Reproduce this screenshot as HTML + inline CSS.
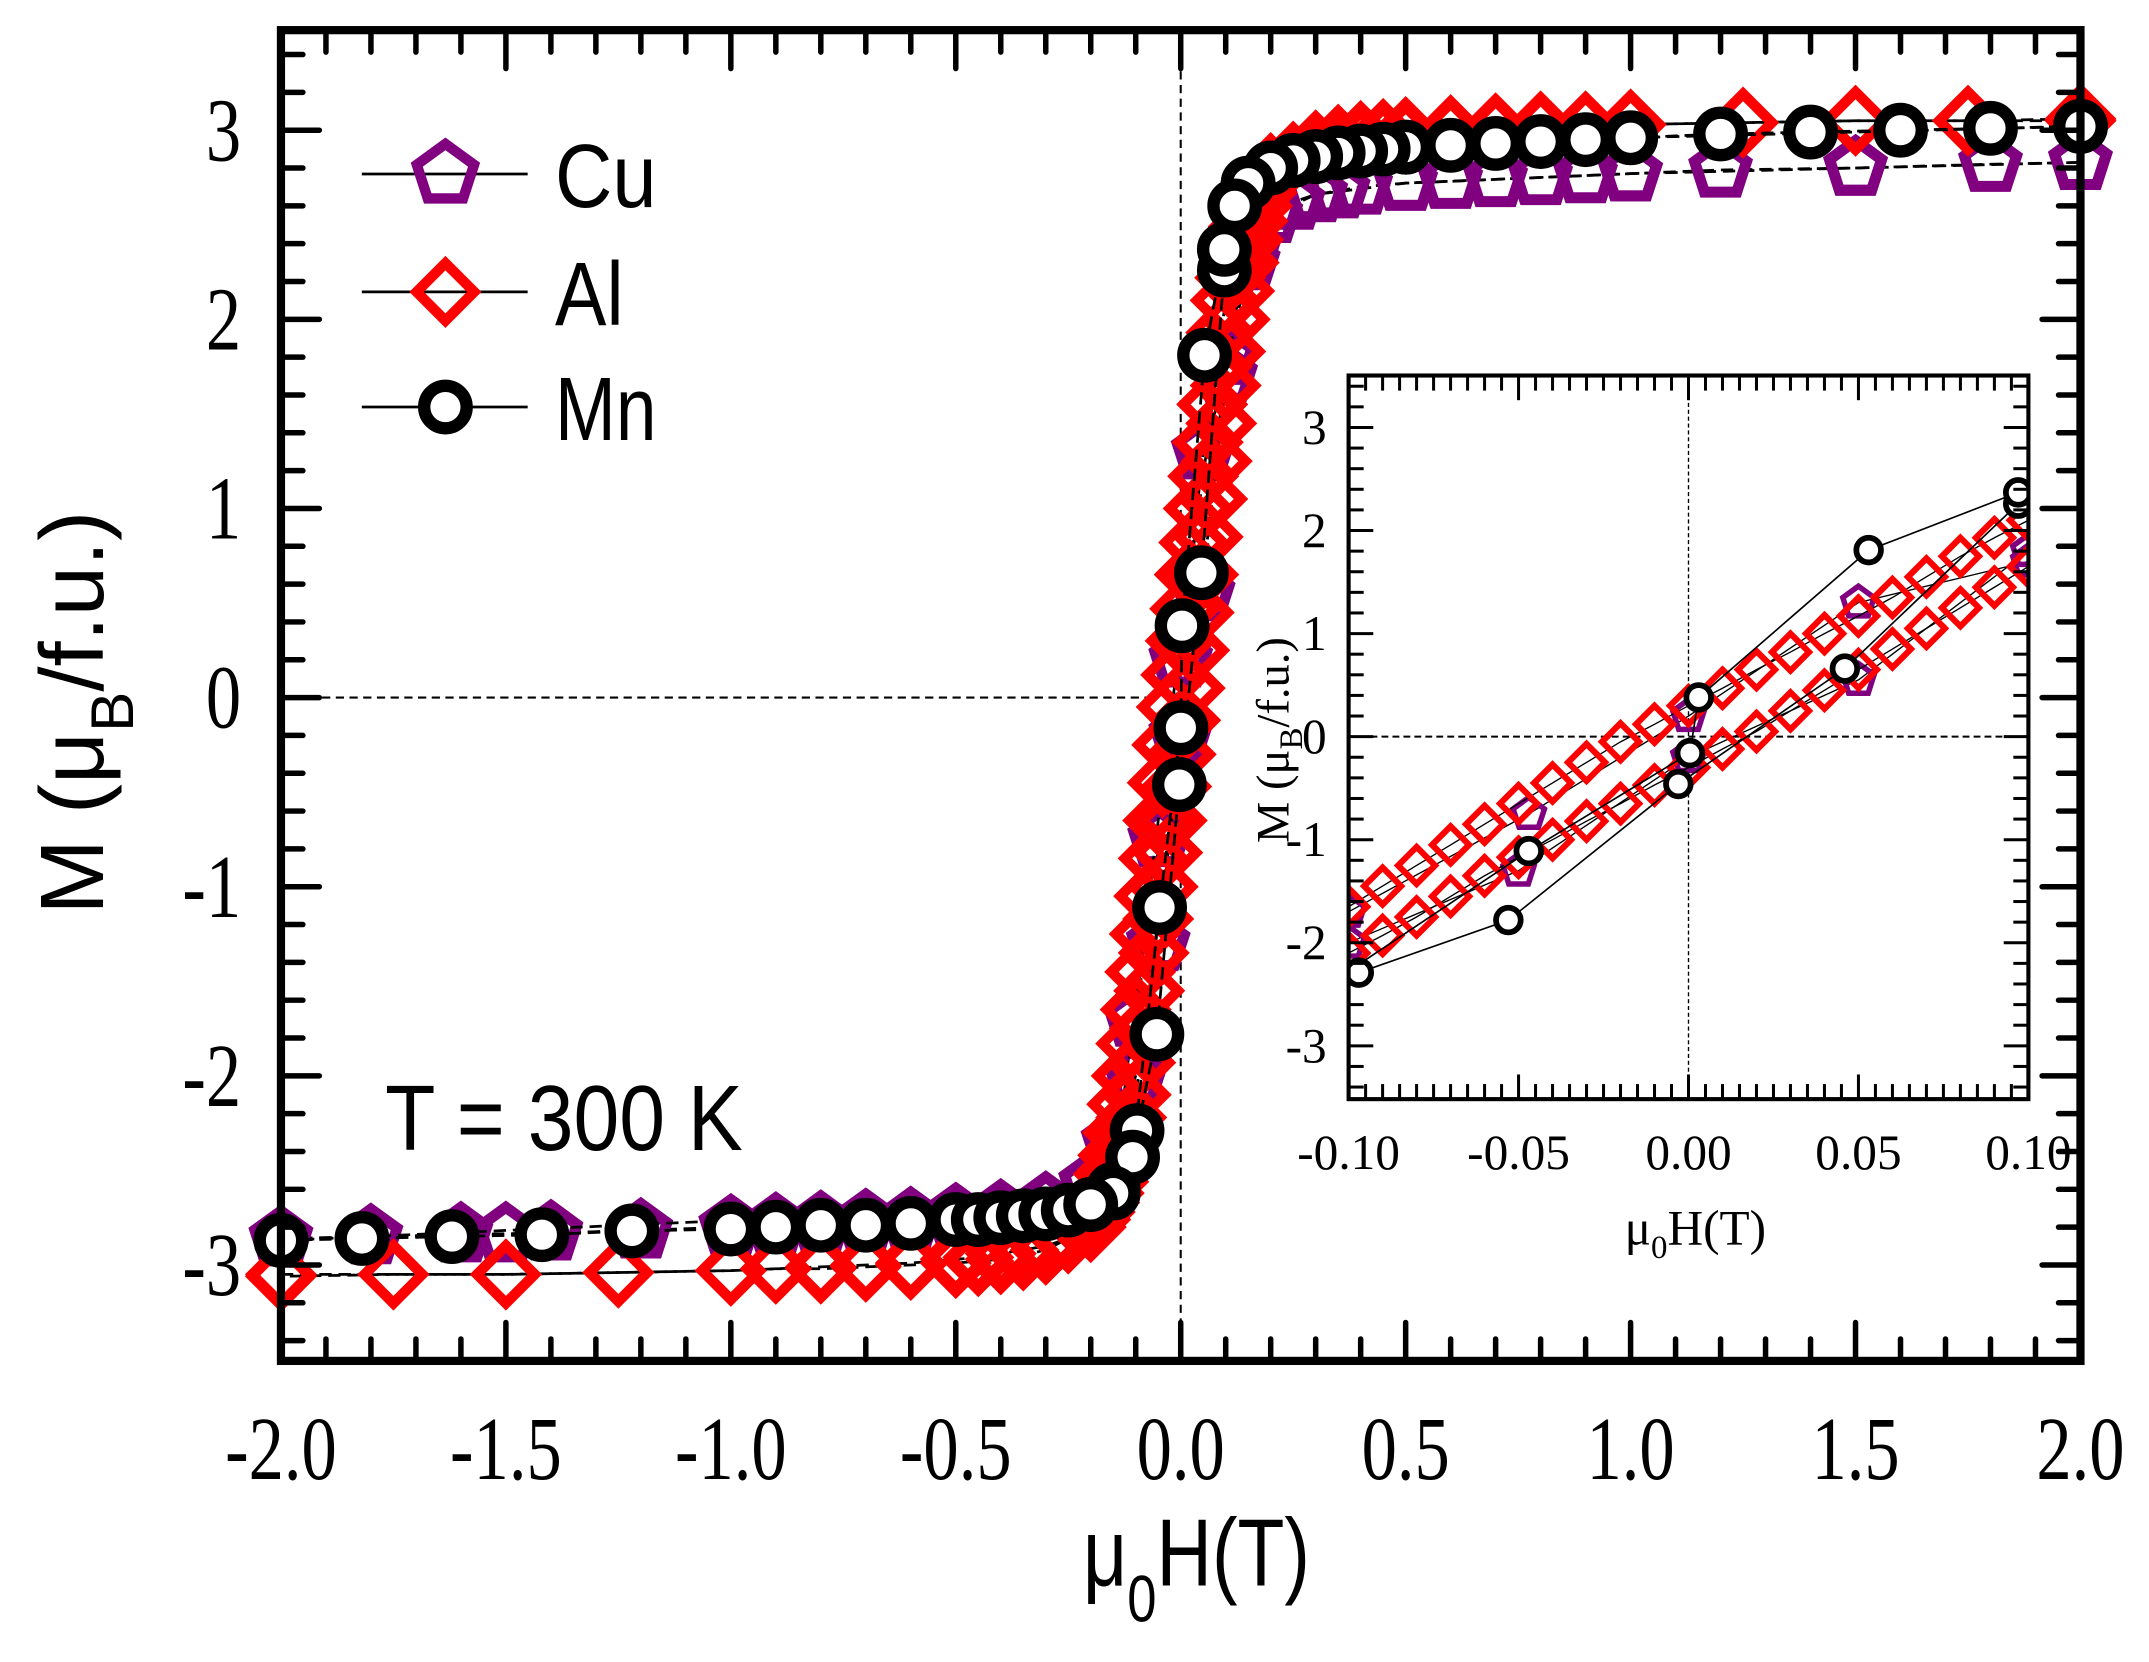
<!DOCTYPE html>
<html><head><meta charset="utf-8"><style>
html,body{margin:0;padding:0;background:#fff;}
svg{display:block;}
</style></head><body>
<svg id="chart" width="2149" height="1662" viewBox="0 0 1568 1212.7" preserveAspectRatio="none" xmlns="http://www.w3.org/2000/svg">
<defs>
<clipPath id="insetClip"><rect x="984" y="274" width="496" height="528"/></clipPath>
</defs>
<g id="main"></g>
<g id="inset"></g>
</svg>
<script>
// ---- data ----
const mnUpH = [-2,-1.82,-1.62,-1.42,-1.22,-1.0,-0.9,-0.8,-0.7,-0.6,-0.5,-0.45,-0.4,-0.35,-0.3,-0.25,-0.2,-0.15,-0.097,-0.053,-0.003,0.046,0.097,0.15,0.2,0.3,0.5,1.0,2.0];
const mnUpM = [-2.87,-2.86,-2.85,-2.84,-2.82,-2.81,-2.8,-2.79,-2.79,-2.78,-2.76,-2.76,-2.75,-2.74,-2.73,-2.71,-2.68,-2.6,-2.29,-1.78,-0.46,0.66,2.26,2.72,2.8,2.86,2.91,2.96,3.02];
const mnDownH = [2.0,1.8,1.6,1.4,1.2,1.0,0.9,0.8,0.7,0.6,0.5,0.45,0.4,0.35,0.3,0.25,0.2,0.15,0.12,0.097,0.053,0.003,0.0004,-0.047,-0.107,-0.15,-0.2,-2.0];
const mnDownM = [3.02,3.01,3.0,2.99,2.98,2.96,2.95,2.94,2.93,2.92,2.91,2.9,2.89,2.88,2.86,2.84,2.8,2.72,2.6,2.37,1.81,0.38,-0.16,-1.11,-2.43,-2.62,-2.68,-2.87];
const cuUpH = [-2,-1.8,-1.6,-1.4,-1.2,-1.0,-0.9,-0.8,-0.7,-0.6,-0.5,-0.4,-0.3,-0.2,-0.15,-0.1,-0.05,0,0.05,0.1,0.15,0.2,0.25,0.3,0.35,0.4,0.5,0.6,0.7,0.8,0.9,1.0,1.2,1.5,1.8,2.0];
const cuUpM = [-2.86,-2.85,-2.84,-2.83,-2.82,-2.8,-2.79,-2.78,-2.77,-2.76,-2.74,-2.72,-2.68,-2.57,-2.35,-2.0,-1.3,-0.2,0.55,1.8,2.35,2.55,2.62,2.66,2.68,2.7,2.72,2.73,2.74,2.75,2.76,2.77,2.79,2.8,2.82,2.83];
const cuDownH = [2.0,1.5,1.0,0.5,0.3,0.2,0.15,0.1,0.05,0,-0.047,-0.1,-0.15,-0.2,-0.3,-0.5,-1.0,-1.5,-2.0];
const cuDownM = [2.83,2.8,2.77,2.72,2.66,2.55,2.3,1.7,1.3,0.2,-0.75,-1.7,-2.35,-2.57,-2.68,-2.74,-2.8,-2.84,-2.86];
const alUpH = [-2,-1.75,-1.5,-1.25,-1.0,-0.9,-0.8,-0.7,-0.6,-0.5,-0.45,-0.4,-0.35,-0.3,-0.25,-0.2,-0.19,-0.18,-0.17,-0.16,-0.15,-0.14,-0.13,-0.12,-0.11,-0.1,-0.09,-0.08,-0.07,-0.06,-0.05,-0.04,-0.03,-0.02,-0.01,0,0.01,0.02,0.03,0.04,0.05,0.06,0.07,0.08,0.09,0.1,0.11,0.12,0.13,0.14,0.15,0.16,0.17,0.18,0.19,0.2,0.25,0.3,0.35,0.4,0.45,0.5,0.6,0.7,0.8,0.9,1.0,1.25,1.5,1.75,2.0];
const alUpM = [-3.05,-3.05,-3.05,-3.04,-3.03,-3.02,-3.01,-3.0,-2.99,-2.97,-2.96,-2.94,-2.92,-2.9,-2.86,-2.8,-2.76,-2.72,-2.67,-2.62,-2.56,-2.49,-2.41,-2.32,-2.22,-2.1,-1.93,-1.75,-1.55,-1.35,-1.17,-1.0,-0.82,-0.65,-0.47,-0.3,-0.12,0.05,0.25,0.45,0.65,0.85,1.05,1.25,1.45,1.65,1.83,2.0,2.15,2.3,2.42,2.52,2.6,2.67,2.72,2.76,2.86,2.92,2.95,2.97,2.98,2.99,3.0,3.01,3.02,3.02,3.03,3.04,3.05,3.05,3.06];
const alDownH = [2,1.75,1.5,1.25,1.0,0.9,0.8,0.7,0.6,0.5,0.45,0.4,0.35,0.3,0.25,0.2,0.19,0.18,0.17,0.16,0.15,0.14,0.13,0.12,0.11,0.1,0.09,0.08,0.07,0.06,0.05,0.04,0.03,0.02,0.01,0,-0.01,-0.02,-0.03,-0.04,-0.05,-0.06,-0.07,-0.08,-0.09,-0.1,-0.11,-0.12,-0.13,-0.14,-0.15,-0.16,-0.17,-0.18,-0.19,-0.2,-0.25,-0.3,-0.35,-0.4,-0.45,-0.5,-0.6,-0.7,-0.8,-0.9,-1.0,-1.25,-1.5,-1.75,-2.0];
const alDownM = [3.05,3.05,3.05,3.04,3.03,3.02,3.01,3.0,2.99,2.97,2.96,2.94,2.92,2.9,2.86,2.8,2.76,2.72,2.67,2.62,2.56,2.49,2.41,2.32,2.22,2.1,1.93,1.75,1.55,1.35,1.17,1.0,0.82,0.65,0.47,0.3,0.12,-0.05,-0.25,-0.45,-0.65,-0.85,-1.05,-1.25,-1.45,-1.65,-1.83,-2.0,-2.15,-2.3,-2.42,-2.52,-2.6,-2.67,-2.72,-2.76,-2.86,-2.92,-2.95,-2.97,-2.98,-2.99,-3.0,-3.01,-3.02,-3.02,-3.03,-3.04,-3.05,-3.05,-3.06];
const mainXTicks = ["-2.0","-1.5","-1.0","-0.5","0.0","0.5","1.0","1.5","2.0"];
const mainYTicks = ["-3","-2","-1","0","1","2","3"];
const insetXTicks = ["-0.10","-0.05","0.00","0.05","0.10"];
const insetYTicks = ["-3","-2","-1","0","1","2","3"];
const legendNames = ["Cu","Al","Mn"];

const NS = "http://www.w3.org/2000/svg";
function mk(parent, tag, attrs, text){
  const e = document.createElementNS(NS, tag);
  for (const k in attrs) e.setAttribute(k, attrs[k]);
  if (text !== undefined) e.textContent = text;
  parent.appendChild(e);
  return e;
}
const main = document.getElementById('main');
const inset = document.getElementById('inset');

const MX0=205, MX1=1518, MY3=95, MY0=509;
const mx = h => MX0 + (h + 2) / 4 * (MX1 - MX0);
const my = m => MY0 - m * (MY0 - MY3) / 3;
const MYT = 22, MYB = 993;
const IX0=984, IX1=1480, IY0=537.5, IYU=75.2, IYT=274, IYB=802;
const ix = h => IX0 + (h + 0.1) / 0.2 * (IX1 - IX0);
const iy = m => IY0 - m * IYU;

function marker(g, kind, x, y, s, sw){
  let e;
  if (kind === 'circle') {
    e = mk(g,'circle',{cx:x,cy:y,r:s,fill:'#fff',stroke:'#000','stroke-width':sw});
  } else if (kind === 'diamond') {
    e = mk(g,'polygon',{points:`${x},${y-s} ${x+s},${y} ${x},${y+s} ${x-s},${y}`,fill:'none',stroke:'#ff0000','stroke-width':sw,'stroke-linejoin':'miter'});
  } else {
    let p=[];
    for(let i=0;i<5;i++){const a=-Math.PI/2+i*2*Math.PI/5;p.push((x+s*Math.cos(a)).toFixed(1)+','+(y+s*Math.sin(a)).toFixed(1));}
    e = mk(g,'polygon',{points:p.join(' '),fill:'none',stroke:'#800080','stroke-width':sw});
  }
  return e;
}

function drawSeries(g, name, kind, branches, fx, fy, s, sw, dash, lw){
  const sg = mk(g,'g',{});
  
  
  branches.forEach(([H,M]) => {
    const pts = H.map((h,i)=>fx(h).toFixed(1)+','+fy(M[i]).toFixed(1)).join(' ');
    const ln = mk(sg,'polyline',{points:pts,fill:'none',stroke:'#000','stroke-width':lw,'stroke-dasharray':dash});
    
    
  });
  branches.forEach(([H,M]) => {
    H.forEach((h,i)=>{
      const e = marker(sg, kind, fx(h), fy(M[i]), s, sw);
      
      
    });
  });
}

// ---------- MAIN ----------
let zl = mk(main,'line',{x1:MX0,y1:my(0),x2:mx(-0.05),y2:my(0),stroke:'#000','stroke-width':1.5,'stroke-dasharray':'6,4'});
 
let zv = mk(main,'line',{x1:mx(0),y1:MYT,x2:mx(0),y2:MYB,stroke:'#000','stroke-width':1.5,'stroke-dasharray':'6,4'});
 

drawSeries(main,'cu','pentagon',[[cuUpH,cuUpM],[cuDownH,cuDownM]],mx,my,20,8,'9,5',2);
drawSeries(main,'al','diamond',[[alUpH,alUpM],[alDownH,alDownM]],mx,my,21,7.5,'9,5',2);
drawSeries(main,'mn','circle',[[mnUpH,mnUpM],[mnDownH,mnDownM]],mx,my,15.5,9,'9,5',2);

const tg = mk(main,'g',{stroke:'#000','stroke-width':4,'stroke-linecap':'round'});
 
for(let k=0;k<=40;k++){
  const h=-2+k*0.1, x=mx(h), L=(k%5===0)?28:16;
  mk(tg,'line',{x1:x,y1:MYT,x2:x,y2:MYT+L});
  mk(tg,'line',{x1:x,y1:MYB,x2:x,y2:MYB-L});
}
for(let k=-17;k<=17;k++){
  const m=k*0.2, y=my(m); if(y<MYT+3||y>MYB-3) continue;
  const L=(k%5===0)?28:16;
  mk(tg,'line',{x1:MX0,y1:y,x2:MX0+L,y2:y});
  mk(tg,'line',{x1:MX1,y1:y,x2:MX1-L,y2:y});
}
let fr = mk(main,'rect',{x:MX0,y:MYT,width:MX1-MX0,height:MYB-MYT,fill:'none',stroke:'#000','stroke-width':6});
 

const serif = '"Liberation Serif", serif', sans = '"Liberation Sans", sans-serif';
mainXTicks.forEach(t=>{
  const x=mx(parseFloat(t));
  const e=mk(main,'text',{x:0,y:0,transform:`translate(${x},1079) scale(0.78,1)`,'text-anchor':'middle','font-family':serif,'font-size':66},t);
   
});
mainYTicks.forEach(t=>{
  const y=my(parseFloat(t));
  const e=mk(main,'text',{x:0,y:0,transform:`translate(176,${y+22}) scale(0.78,1)`,'text-anchor':'end','font-family':serif,'font-size':66},t);
   
});
let xt = mk(main,'text',{x:0,y:0,transform:'translate(873,1157) scale(0.8,1)','text-anchor':'middle','font-family':sans,'font-size':70});
 
mk(xt,'tspan',{},'μ'); mk(xt,'tspan',{dy:26,'font-size':48},'0'); mk(xt,'tspan',{dy:-26},'H(T)');
let yt = mk(main,'text',{x:0,y:0,transform:'translate(75,520) rotate(-90)','text-anchor':'middle','font-family':sans,'font-size':66});
 
mk(yt,'tspan',{},'M (μ'); mk(yt,'tspan',{dy:22,'font-size':44},'B'); mk(yt,'tspan',{dy:-22},'/f.u.)');

const lg = mk(main,'g',{});
 
const legKinds=['pentagon','diamond','circle'], legY=[127,213,297];
legendNames.forEach((n,i)=>{
  const g=mk(lg,'g',{});
  
  
  mk(g,'line',{x1:264,y1:legY[i],x2:385,y2:legY[i],stroke:'#000','stroke-width':2});
  marker(g,legKinds[i],325,legY[i],legKinds[i]==='circle'?15.5:(legKinds[i]==='diamond'?21:22),legKinds[i]==='circle'?9:7.5);
  mk(g,'text',{x:405,y:legY[i]+24,'font-family':sans,'font-size':66,textLength:n==='Mn'?74:(n==='Cu'?74:50),lengthAdjust:'spacingAndGlyphs'},n);
});
let tt = mk(main,'text',{x:281,y:839,'font-family':sans,'font-size':68,textLength:261,lengthAdjust:'spacingAndGlyphs'},'T = 300 K');
 

// ---------- INSET ----------
let ibg = mk(inset,'rect',{x:IX0,y:IYT,width:IX1-IX0,height:IYB-IYT,fill:'#fff'});
 
const ic = mk(inset,'g',{'clip-path':'url(#insetClip)'});
 
mk(ic,'line',{x1:IX0,y1:iy(0),x2:IX1,y2:iy(0),stroke:'#000','stroke-width':1.5,'stroke-dasharray':'5,3'});
mk(ic,'line',{x1:ix(0),y1:IYT,x2:ix(0),y2:IYB,stroke:'#000','stroke-width':1,'stroke-dasharray':'3,2'});
drawSeries(ic,'inset-cu','pentagon',[[cuUpH,cuUpM],[cuDownH,cuDownM]],ix,iy,12,4,'none',1);
drawSeries(ic,'inset-al','diamond',[[alUpH,alUpM],[alDownH,alDownM]],ix,iy,13.5,4.5,'none',1);
drawSeries(ic,'inset-mn','circle',[[mnUpH,mnUpM],[mnDownH,mnDownM]],ix,iy,9,4.2,'none',1.2);

const itg = mk(inset,'g',{stroke:'#000','stroke-width':2.2});
 
for(let k=0;k<=40;k++){
  const x=ix(-0.1+k*0.005), L=(k%10===0)?18:11;
  mk(itg,'line',{x1:x,y1:IYT,x2:x,y2:IYT+L});
  mk(itg,'line',{x1:x,y1:IYB,x2:x,y2:IYB-L});
}
for(let k=-17;k<=17;k++){
  const y=iy(k*0.2); if(y<IYT+2||y>IYB-2) continue;
  const L=(k%5===0)?18:11;
  mk(itg,'line',{x1:IX0,y1:y,x2:IX0+L,y2:y});
  mk(itg,'line',{x1:IX1,y1:y,x2:IX1-L,y2:y});
}
let ifr = mk(inset,'rect',{x:IX0,y:IYT,width:IX1-IX0,height:IYB-IYT,fill:'none',stroke:'#000','stroke-width':3});
 
insetXTicks.forEach(t=>{
  const e=mk(inset,'text',{x:ix(parseFloat(t)),y:853,'text-anchor':'middle','font-family':serif,'font-size':36},t);
   
});
insetYTicks.forEach(t=>{
  const e=mk(inset,'text',{x:968,y:iy(parseFloat(t))+12,'text-anchor':'end','font-family':serif,'font-size':36},t);
   
});
let ixt = mk(inset,'text',{x:1237,y:908,'text-anchor':'middle','font-family':serif,'font-size':36});
 
mk(ixt,'tspan',{},'μ'); mk(ixt,'tspan',{dy:10,'font-size':24},'0'); mk(ixt,'tspan',{dy:-10},'H(T)');
let iyt = mk(inset,'text',{x:0,y:0,transform:'translate(940,540) rotate(-90)','text-anchor':'middle','font-family':serif,'font-size':34});
 
mk(iyt,'tspan',{},'M (μ'); mk(iyt,'tspan',{dy:10,'font-size':24},'B'); mk(iyt,'tspan',{dy:-10},'/f.u.)');
</script>
</body></html>
